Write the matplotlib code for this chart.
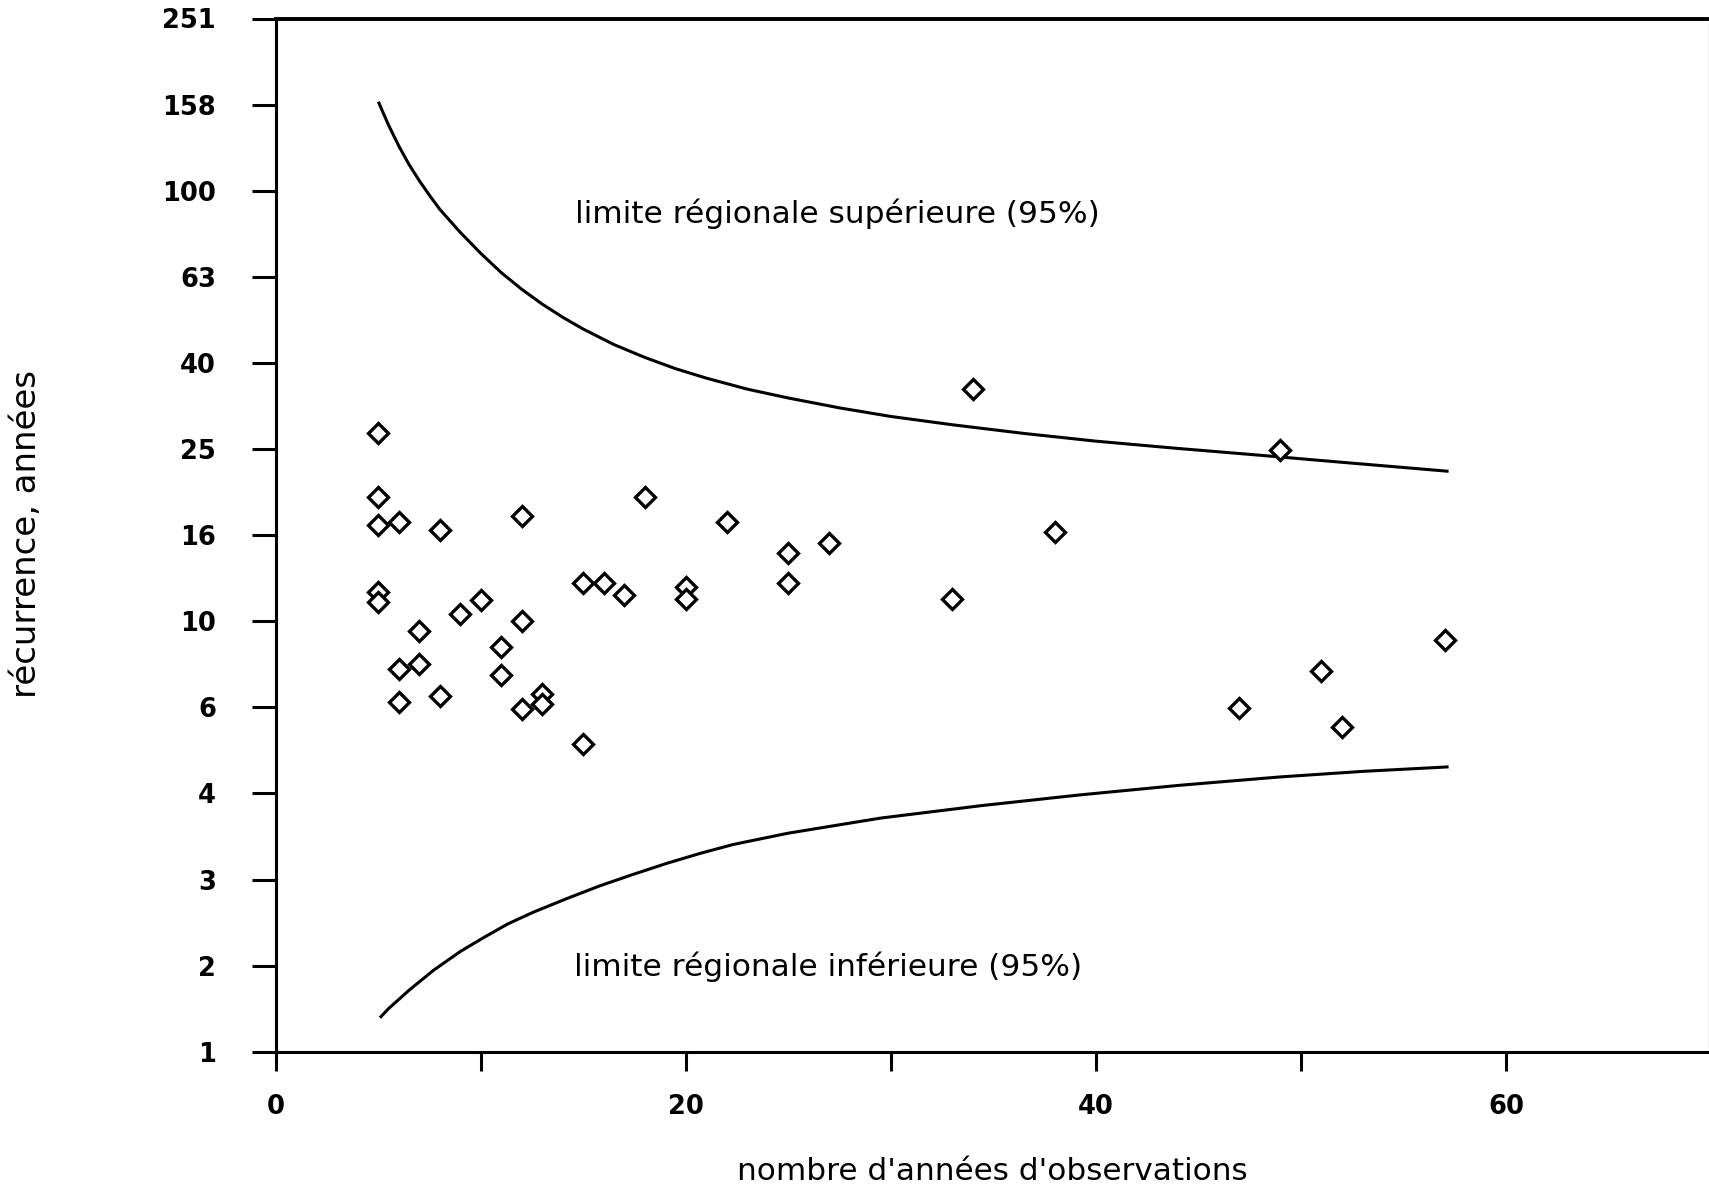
import numpy as np
import matplotlib
matplotlib.use("Agg")
import matplotlib.pyplot as plt

# Observed stations: record length (years) and recurrence interval (years)
obs_years = [5, 5, 5, 5, 5, 6, 6, 6, 7, 7, 8, 8, 9, 10, 11, 11, 12, 12, 12, 13,
             13, 15, 15, 16, 17, 18, 20, 20, 22, 25, 25, 27, 33, 34, 38, 47, 49,
             51, 52, 57]
recurrence = [27.3, 19.4, 16.7, 11.7, 11.1, 17.0, 7.75, 6.5, 9.5, 7.94, 16.3, 6.7,
              10.4, 11.2, 8.7, 7.52, 17.6, 10.0, 6.27, 6.76, 6.42, 12.3, 5.2,
              12.27, 11.5, 19.4, 12.0, 11.25, 17.0, 14.4, 12.27, 15.2, 11.29, 34.6,
              16.1, 6.28, 25.0, 7.68, 5.69, 9.07]

# Regional 95% limits
upper_x = [5.0, 5.5, 6.0, 6.5, 7.0, 7.5, 8.0, 9.0, 10.0, 11.0, 12.0, 13.0, 14.0,
           15.0, 16.5, 18.0, 19.5, 21.0, 23.0, 25.0, 27.5, 30.0, 33.0, 36.5,
           40.0, 44.0, 48.0, 52.0, 57.2]
upper_y = [161.0, 142.0, 127.0, 115.0, 105.5, 97.5, 90.5, 80.0, 71.5, 64.5, 59.0,
           54.5, 50.8, 47.7, 43.9, 41.0, 38.6, 36.7, 34.6, 33.0, 31.3, 29.9,
           28.6, 27.3, 26.2, 25.2, 24.3, 23.4, 22.3]

lower_x = [5.08, 5.5, 6.5, 7.68, 9.0, 10.12, 11.3, 12.56, 14.2, 15.81, 17.4,
           19.07, 20.7, 22.3, 25.0, 29.5, 34.4, 39.2, 44.1, 49.0, 53.0, 57.2]
lower_y = [1.20, 1.26, 1.39, 1.545, 1.71, 1.84, 1.98, 2.11, 2.27, 2.43, 2.58,
           2.74, 2.89, 3.03, 3.22, 3.49, 3.73, 3.95, 4.16, 4.35, 4.48, 4.59]

y_tick_values = [10 ** (0.2 * k) for k in range(13)]
y_tick_labels = ["1", "2", "3", "4", "6", "10", "16", "25", "40", "63", "100",
                 "158", "251"]
x_tick_values = [0, 10, 20, 30, 40, 50, 60]
x_tick_labels = ["0", "", "20", "", "40", "", "60"]

plt.rcParams["font.family"] = ["DejaVu Sans"]

W, H = 1709, 1188
fig = plt.figure(figsize=(W / 100, H / 100), dpi=100)
ax = fig.add_axes([275.8 / W, (H - 1051.8) / H, 1 - 275.8 / W, (1051.8 - 18.5) / H])

ax.set_yscale("log")
ax.set_xlim(0, 69.9)
ax.set_ylim(1, 10 ** 2.4)

ax.plot(upper_x, upper_y, color="black", lw=2.2, solid_capstyle="butt",
        solid_joinstyle="round")
ax.plot(lower_x, lower_y, color="black", lw=2.2, solid_capstyle="butt",
        solid_joinstyle="round")
ax.plot(obs_years, recurrence, linestyle="none", marker="D", ms=10,
        mfc="white", mec="black", mew=2.4)

ax.yaxis.set_minor_locator(matplotlib.ticker.NullLocator())
ax.set_yticks(y_tick_values)
ax.set_yticklabels(y_tick_labels)
ax.set_xticks(x_tick_values)
ax.set_xticklabels(x_tick_labels)
ax.tick_params(axis="y", direction="out", length=17, width=2.2, pad=26,
               labelsize=18.5)
ax.tick_params(axis="x", direction="out", length=13.5, width=2.2, pad=17,
               labelsize=18.5)
for lab in ax.get_xticklabels() + ax.get_yticklabels():
    lab.set_fontweight("bold")

for side in ("left", "bottom"):
    ax.spines[side].set_linewidth(2.2)
ax.spines["top"].set_linewidth(2.8)
ax.spines["right"].set_linewidth(1.0)
ax.spines["right"].set_color("#c8c8c8")

ax.text(14.59, 84.2, "limite régionale supérieure (95%)", fontsize=22.5,
        ha="left", va="baseline")
ax.text(14.55, 1.5, "limite régionale inférieure (95%)", fontsize=22.5,
        ha="left", va="baseline")

fig.text(27 / W, 1 - 534 / H, "récurrence, années", rotation=90, fontsize=24.5,
         ha="center", va="center")
fig.text(992 / W, 1 - 1172 / H, "nombre d'années d'observations", fontsize=22.4,
         ha="center", va="center")

fig.savefig("out.png", dpi=100)
